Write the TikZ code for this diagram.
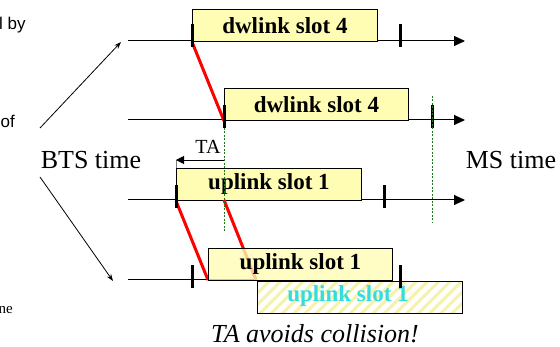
\documentclass[tikz,border=0pt]{standalone}
\usepackage{fontspec}
\setmainfont{Liberation Serif}
\newfontfamily\fragsans{Liberation Sans}
\newfontfamily\fragserif{Liberation Serif}
\usetikzlibrary{arrows.meta,patterns.meta}
\definecolor{slotfill}{RGB}{255,252,180}
\definecolor{slotcyan}{RGB}{51,221,221}
\definecolor{guide}{RGB}{30,120,30}
\definecolor{hatchcol}{RGB}{246,242,170}

\begin{document}
\begin{tikzpicture}[x=1pt,y=-1pt,
  timeline/.style={line width=1pt,-{Triangle[length=11pt,width=10pt]}},
  plainline/.style={line width=1pt},
  tickmark/.style={line width=3pt},
  slotbox/.style={draw=black,line width=0.9pt,fill=slotfill,inner sep=0pt,
    anchor=north west,minimum height=32pt,
    font=\fragserif\fontsize{23}{26}\selectfont\bfseries},
  prop/.style={red,line width=3pt},
  guideline/.style={guide,dash pattern=on 2pt off 1.5pt,line width=0.6pt},
  biglabel/.style={font=\fragserif\fontsize{26}{30}\selectfont,inner sep=0pt},
  pointer/.style={line width=0.8pt,-{Stealth[length=7pt,width=5pt]}},
]
\useasboundingbox (0,0) rectangle (560,347);
\clip (0,0) rectangle (560,347);

% cut-off text at the left border
\node[font=\fragsans\fontsize{17}{20}\selectfont,anchor=west,inner sep=0pt] (fragA) at (-1,25) {l by};
\node[font=\fragsans\fontsize{17}{20}\selectfont,anchor=east,inner sep=0pt] (fragB) at (15,121) {of};
\node[font=\fragserif\fontsize{15}{18}\selectfont,anchor=east,inner sep=0pt] (fragC) at (13,310) {ne};

% time axes
\coordinate (l1s) at (128,41);  \coordinate (l1e) at (465,41);
\coordinate (l2s) at (128,120); \coordinate (l2e) at (465,120);
\coordinate (l3s) at (128,200); \coordinate (l3e) at (465,200);
\coordinate (l4s) at (128,280);
\draw[timeline] (l1s) -- (l1e);
\draw[timeline] (l2s) -- (l2e);
\draw[timeline] (l3s) -- (l3e);

% slots
\node[slotbox,minimum width=185pt] (dw1) at (192,9) {dwlink slot 4};
\node[slotbox,minimum width=184pt] (dw2) at (224,88) {dwlink slot 4};
\node[slotbox,minimum width=185pt] (up3) at (176,168) {uplink slot 1};

% late uplink slot (without timing advance)
\node[draw=black,line width=0.9pt,inner sep=0pt,anchor=north west,
  minimum width=205pt,minimum height=32pt,
  preaction={fill=white},
  pattern={Lines[angle=45,distance=8pt,line width=3pt]},pattern color=hatchcol]
  (up5) at (256,280) {};
\node[font=\fragserif\fontsize{23}{26}\selectfont\bfseries,text=slotcyan,inner sep=0pt]
  (up5t) at (348,296) {uplink slot 1};
\draw[plainline] (l4s) -- (up5.north west);

% propagation delay
\coordinate (ta-start) at (224,200);
\draw[prop] (dw1.south west) -- (dw2.south west);
\draw[prop] (up3.south west) -- (208,280) coordinate (up4sw);
\draw[prop] (ta-start) -- (up5.north west);

\node[slotbox,minimum width=184pt,fill opacity=0.8,text opacity=1] (up4) at (208,248) {uplink slot 1};

% slot boundaries
\draw[tickmark] (192,24) -- (192,47);
\draw[tickmark] (400,24) -- (400,47);
\draw[tickmark] (224,105) -- (224,128);
\draw[tickmark] (432,105) -- (432,128);
\draw[tickmark] (176,185) -- (176,208);
\draw[tickmark] (384,185) -- (384,208);
\draw[tickmark] (192,265) -- (192,288);
\draw[tickmark] (400,265) -- (400,288);

% reference guides
\coordinate (g1a) at (224,128); \coordinate (g1b) at (224,232);
\coordinate (g2a) at (432,96);  \coordinate (g2b) at (432,223);
\draw[guideline] (g1a) -- (g1b);
\draw[guideline] (g2a) -- (g2b);

% timing advance
\coordinate (ta-r) at (224,160);
\coordinate (ta-l) at (176,160);
\draw[line width=0.4pt,gray] (ta-l) -- (up3.north west);
\draw[line width=0.8pt,-{Triangle[length=8pt,width=8pt]}] (ta-r) -- (ta-l);
\node[font=\fragserif\fontsize{20}{24}\selectfont,inner sep=0pt] (ta) at (208,147) {TA};

% labels
\node[biglabel] (bts) at (91,160) {BTS time};
\node[biglabel] (ms) at (511,160) {MS time};
\node[biglabel,font=\fragserif\fontsize{26}{30}\selectfont\itshape] (note) at (315,334) {TA avoids collision!};

\coordinate (bts-up) at (40,128);
\coordinate (bts-dn) at (40,177);
\coordinate (bts-up-tip) at (121,42);
\coordinate (bts-dn-tip) at (113,281);
\draw[pointer] (bts-up) -- (bts-up-tip);
\draw[pointer] (bts-dn) -- (bts-dn-tip);
\end{tikzpicture}
\end{document}
